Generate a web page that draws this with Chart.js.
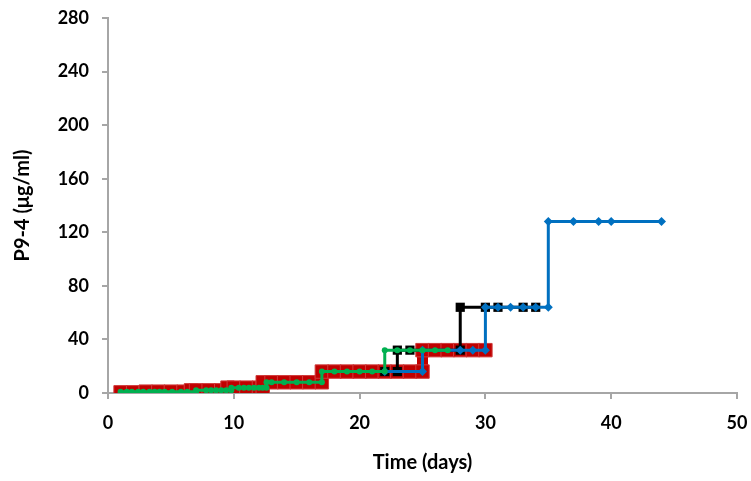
<!DOCTYPE html>
<html>
<head>
<meta charset="utf-8">
<script src="https://cdn.jsdelivr.net/npm/chart.js@4"></script>
<style>
  body { margin: 0; background: #fff; }
  #wrap { width: 751px; height: 481px; }
</style>
</head>
<body>
<div id="wrap"><canvas id="stepChart"></canvas></div>
<script>
// days and P9-4 concentration (ug/ml), steps written as duplicate days
const greenDays = [1, 1.5, 1.9, 2.4, 2.8, 3.3, 3.7, 4.1, 4.5, 5.1, 5.8, 6.3, 7, 7, 7.8, 8.2, 8.6, 9, 9.4,
  9.8, 9.8, 10.4, 10.8, 11.2, 11.6, 12, 12.3, 12.6, 12.6, 13, 14, 15, 16, 17, 17, 18, 19, 20, 21,
  22, 22, 23, 24, 25, 26, 27];
const greenVals = [1, 1, 1, 1, 1, 1, 1, 1, 1, 1, 1, 1, 1, 2, 2, 2, 2, 2, 2,
  2, 4, 4, 4, 4, 4, 4, 4, 4, 8, 8, 8, 8, 8, 8, 16, 16, 16, 16, 16,
  16, 32, 32, 32, 32, 32, 32];

const blueDays = [22, 25, 25, 28, 29, 30, 30, 31, 32, 33, 34, 35, 35, 37, 39, 40, 44];
const blueVals = [16, 16, 32, 32, 32, 32, 64, 64, 64, 64, 64, 64, 128, 128, 128, 128, 128];

const blackDays = [22, 23, 23, 24, 28, 28, 30, 31, 33, 34];
const blackVals = [16, 16, 32, 32, 32, 64, 64, 64, 64, 64];

const redDays = [1, 2, 3, 3, 4, 5, 6, 6.6, 6.6, 7, 8, 9, 9.5, 9.5, 10, 11, 12, 12.3, 12.3, 13, 14, 15, 16, 17,
  17, 18, 19, 20, 21, 22, 23, 24, 25, 25, 26, 27, 28, 29, 30];
const redVals = [0.5, 0.5, 0.5, 1, 1, 1, 1, 1, 2, 2, 2, 2, 2, 4, 4, 4, 4, 4, 8, 8, 8, 8, 8, 8,
  16, 16, 16, 16, 16, 16, 16, 16, 16, 32, 32, 32, 32, 32, 32];

const toPoints = (xs, ys) => xs.map((x, i) => ({ x: x, y: ys[i] }));

const axisGray = '#a6a6a6';
const tickFont = { family: 'Lato', weight: 'bold', size: 18 };
const titleFont = { family: 'Lato', weight: 'bold', size: 20 };

new Chart(document.getElementById('stepChart'), {
  type: 'scatter',
  data: {
    datasets: [
      {
        data: toPoints(greenDays, greenVals),
        showLine: true,
        borderColor: '#00b050',
        borderWidth: 3,
        pointStyle: 'circle',
        pointRadius: 3,
        pointBackgroundColor: '#00b050',
        pointBorderWidth: 0
      },
      {
        data: toPoints(blueDays, blueVals),
        showLine: true,
        borderColor: '#0070c0',
        borderWidth: 3,
        pointStyle: 'rectRot',
        pointRadius: 4.5,
        pointBackgroundColor: '#0070c0',
        pointBorderWidth: 0
      },
      {
        data: toPoints(blackDays, blackVals),
        showLine: true,
        borderColor: '#000000',
        borderWidth: 3,
        pointStyle: 'rect',
        pointRadius: 6.5,
        pointBackgroundColor: '#000000',
        pointBorderWidth: 0
      },
      {
        data: toPoints(redDays, redVals),
        showLine: true,
        borderColor: '#c00000',
        borderWidth: 11,
        pointStyle: 'rect',
        pointRadius: 9.5,
        pointBackgroundColor: '#c00000',
        pointBorderColor: '#cf3a3a',
        pointBorderWidth: 1
      }
    ]
  },
  options: {
    responsive: true,
    maintainAspectRatio: false,
    animation: false,
    layout: { padding: { top: 18, right: 14, left: 0, bottom: 0 } },
    plugins: { legend: { display: false }, tooltip: { enabled: false } },
    scales: {
      x: {
        type: 'linear',
        min: 0,
        max: 50,
        ticks: { stepSize: 10, color: '#000', font: tickFont, padding: 13, maxRotation: 0 },
        grid: { drawOnChartArea: false, drawTicks: true, tickLength: 6, color: axisGray, lineWidth: 2 },
        border: { color: axisGray, width: 2 },
        title: { display: true, text: 'Time (days)', color: '#000', font: titleFont, padding: { top: 0, bottom: 6 } },
        afterFit: (scale) => {
          scale.height = 88;
          scale.paddingLeft = 0;
          scale.paddingRight = 0;
        }
      },
      y: {
        min: 0,
        max: 280,
        ticks: { stepSize: 40, color: '#000', font: tickFont, padding: 13 },
        grid: { drawOnChartArea: false, drawTicks: true, tickLength: 6, color: axisGray, lineWidth: 2 },
        border: { color: axisGray, width: 2 },
        title: { display: true, text: 'P9-4 (μg/ml)', color: '#000', font: titleFont, padding: { top: 11, bottom: 0 } },
        afterFit: (scale) => {
          scale.width = 108;
          scale.paddingTop = 0;
          scale.paddingBottom = 0;
        }
      }
    }
  }
});
</script>
</body>
</html>
